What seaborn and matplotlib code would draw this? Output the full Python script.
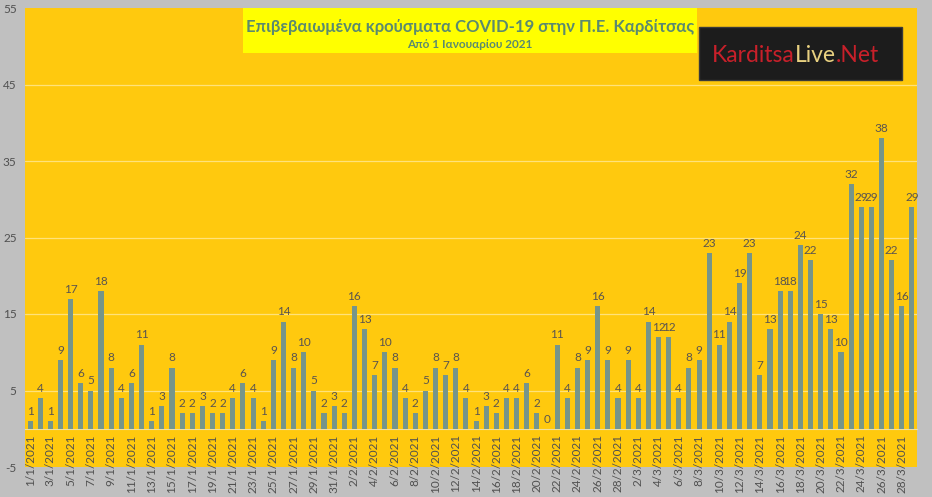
import matplotlib
matplotlib.use("Agg")
import matplotlib.pyplot as plt
import seaborn as sns
import pandas as pd
from matplotlib.patches import Rectangle
from matplotlib.text import Annotation

# daily confirmed cases, 1/1/2021 - 29/3/2021
jan = [1, 4, 1, 9, 17, 6, 5, 18, 8, 4, 6, 11, 1, 3, 8, 2, 2, 3, 2, 2,
       4, 6, 4, 1, 9, 14, 8, 10, 5, 2, 3]
feb = [2, 16, 13, 7, 10, 8, 4, 2, 5, 8, 7, 8, 4, 1, 3, 2, 4, 4, 6, 2,
       0, 11, 4, 8, 9, 16, 9, 4]
mar = [9, 4, 14, 12, 12, 4, 8, 9, 23, 11, 14, 19, 23, 7, 13, 18, 18, 24, 22, 15,
       13, 10, 32, 29, 29, 38, 22, 16, 29]

dates = ([f"{d}/1/2021" for d in range(1, 32)]
         + [f"{d}/2/2021" for d in range(1, 29)]
         + [f"{d}/3/2021" for d in range(1, 30)])
cases = jan + feb + mar

title = "Επιβεβαιωμένα κρούσματα COVID-19 στην Π.Ε. Καρδίτσας"
subtitle = "Από 1 Ιανουαρίου 2021"
yticks = [-5, 5, 15, 25, 35, 45, 55]

df = pd.DataFrame({"date": dates, "cases": cases})

sns.set_style("white")
plt.rcParams["font.family"] = ["Lato", "Noto Sans", "DejaVu Sans"]

fig = plt.figure(figsize=(9.32, 4.97), dpi=100)
fig.patch.set_facecolor("#c0c0c0")
ax = fig.add_axes([25 / 932, 30 / 497, 892 / 932, 459 / 497])
ax.set_facecolor("#ffc90e")

sns.barplot(data=df, x="date", y="cases", color="#76958a", width=0.5,
            saturation=1, edgecolor="none", linewidth=0, ax=ax, zorder=3)
ax.bar_label(ax.containers[0], padding=3, fontsize=8.5, color="#595450")

ax.set_ylim(-5, 55)
ax.set_xlim(-0.5, len(dates) - 0.5)
ax.set_yticks(yticks)
ax.set_yticklabels([str(v) for v in yticks])
ax.tick_params(axis="y", length=0, pad=6, labelsize=8.5, labelcolor="#505050")
for v in yticks[1:-1]:
    ax.axhline(v, color="#ffe27a", lw=0.9, zorder=1)

ax.set_xticks(range(0, len(dates), 2))
ax.set_xticklabels(dates[::2])
ax.set_xticks([i - 0.5 for i in range(0, len(dates) + 1, 2)], minor=True)
ax.tick_params(axis="x", which="major", length=0, pad=4, labelrotation=90,
               labelsize=8.5, labelcolor="#505050")
ax.tick_params(axis="x", which="minor", length=4, color="#e8d8a0", direction="out")

for s in ["top", "right", "left"]:
    ax.spines[s].set_visible(False)
ax.spines["bottom"].set_position(("data", 0))
ax.spines["bottom"].set_color("#f0e0a0")
ax.set_xlabel("")
ax.set_ylabel("")

# title box
fig.patches.append(Rectangle((243 / 932, 1 - 53 / 497), 454 / 932, 45 / 497,
                             transform=fig.transFigure, facecolor="#ffff00",
                             edgecolor="none", zorder=5))
fig.text(470 / 932, 1 - 27 / 497, title, ha="center", va="center",
         fontsize=12, fontweight="bold", color="#5b8a6f", zorder=6)
fig.text(470 / 932, 1 - 44 / 497, subtitle, ha="center", va="center",
         fontsize=8.5, fontweight="bold", color="#5b8a6f", zorder=6)

# logo
fig.patches.append(Rectangle((699 / 932, 1 - 80 / 497), 203 / 932, 53 / 497,
                             transform=fig.transFigure, facecolor="#1c1c1c",
                             edgecolor="#3a3a3a", zorder=5))
t1 = fig.text(712 / 932, 1 - 55 / 497, "Karditsa", ha="left", va="center",
              fontsize=16.5, color="#c8202a", zorder=6)
t2 = fig.add_artist(Annotation("Live", xy=(1, 0.5), xycoords=t1, va="center",
                               ha="left", fontsize=16.5, color="#e8d080"))
t2.set_zorder(6)
t3 = fig.add_artist(Annotation(".Net", xy=(1, 0.5), xycoords=t2, va="center",
                               ha="left", fontsize=16.5, color="#c8202a"))
t3.set_zorder(6)

fig.savefig("out.png", dpi=100, facecolor=fig.get_facecolor())
